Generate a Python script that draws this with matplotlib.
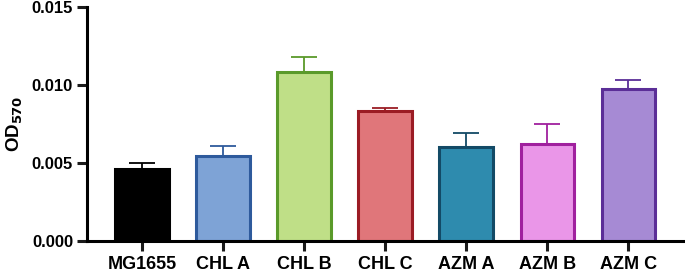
import matplotlib.pyplot as plt

strains = ['MG1655', 'CHL A', 'CHL B', 'CHL C', 'AZM A', 'AZM B', 'AZM C']
od570 = [0.00462, 0.00545, 0.01083, 0.00833, 0.00603, 0.00622, 0.00974]
od570_err = [0.00040, 0.00064, 0.00096, 0.00020, 0.00089, 0.00128, 0.00058]
fill_colors = ['#000000', '#7EA3D6', '#BFDF87', '#E0767A', '#2E8BAE', '#EA96E8', '#A68AD4']
edge_colors = ['#000000', '#2E5A9C', '#5A9A2A', '#9B1C24', '#134A66', '#A0209E', '#5B2E97']

plt.rcParams['font.family'] = ['Liberation Sans', 'DejaVu Sans']
plt.rcParams['font.weight'] = 'bold'

fig = plt.figure(figsize=(6.85, 2.72), dpi=100)
ax = fig.add_axes([0.127, 0.114, 0.873, 0.86])

x = list(range(len(strains)))
for i in x:
    ax.bar(i, od570[i], width=0.66, color=fill_colors[i], edgecolor=edge_colors[i],
           linewidth=2.2, zorder=2)
    ax.errorbar(i, od570[i], yerr=[[0], [od570_err[i]]], fmt='none',
                ecolor=edge_colors[i], elinewidth=1.3, capsize=9.5, capthick=1.3, zorder=1)

ax.set_xlim(-0.68, 6.70)
ax.set_ylim(0, 0.015)
ax.set_yticks([0, 0.005, 0.010, 0.015])
ax.set_yticklabels(['0.000', '0.005', '0.010', '0.015'])
ax.set_xticks(x)
ax.set_xticklabels(strains)
ax.set_ylabel('OD$_{\\mathbf{570}}$', fontsize=13.5, fontweight='bold', labelpad=5)

for side in ['top', 'right']:
    ax.spines[side].set_visible(False)
for side in ['left', 'bottom']:
    ax.spines[side].set_linewidth(2.2)
    ax.spines[side].set_zorder(3)
ax.tick_params(axis='both', width=2.2, length=7, color='#1a1a1a')
ax.tick_params(axis='y', labelsize=12, pad=3)
ax.tick_params(axis='x', labelsize=13, pad=4)

fig.savefig('out.png', dpi=100)
